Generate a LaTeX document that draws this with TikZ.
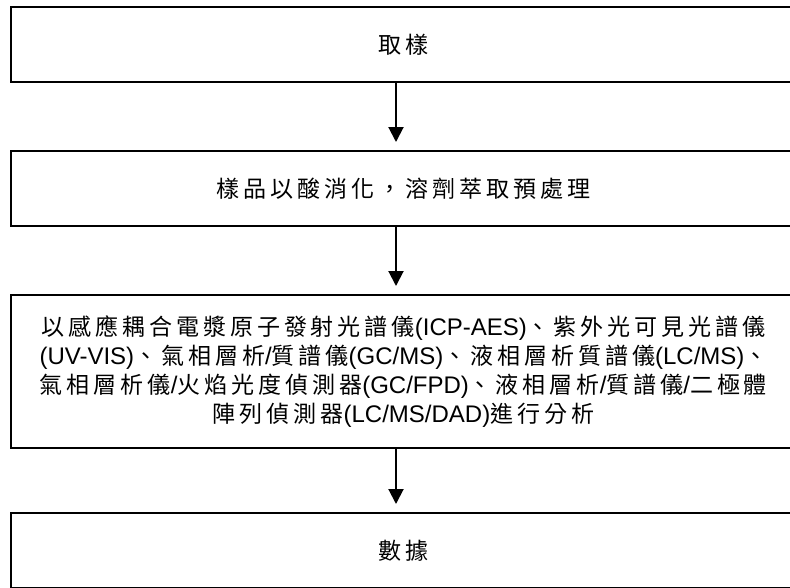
\documentclass[tikz,border=0pt]{standalone}
\usepackage{fontspec}
\setmainfont{Liberation Sans}
\newfontfamily\cjk[Scale=0.96,LetterSpace=17]{Noto Sans CJK TC}
\usetikzlibrary{arrows.meta}
\begin{document}
\begin{tikzpicture}[x=0.75pt,y=-0.75pt,
  box/.style={draw=black, line width=1.5pt, minimum width=588.75pt, minimum height=56.25pt, inner sep=0pt, align=center, font=\fontsize{18pt}{21.75pt}\selectfont},
  arr/.style={line width=1.5pt, -{Triangle[width=11.25pt,length=11.25pt]}, shorten >=6pt}]
\useasboundingbox (0,0) rectangle (790,587);
\node[box] (b1) at (403.5,44.5) {{\cjk 取樣}};
\node[box] (b2) at (403.5,188.5) {{\cjk 樣品以酸消化，溶劑萃取預處理}};
\node[box, minimum height=114.75pt] (b3) at (403.5,371.5) {{\cjk 以感應耦合電漿原子發射光譜儀}(ICP-AES){\cjk 、紫外光可見光譜儀}\\
(UV-VIS){\cjk 、氣相層析}/{\cjk 質譜儀}(GC/MS){\cjk 、液相層析質譜儀}(LC/MS){\cjk 、}\\
{\cjk 氣相層析儀}/{\cjk 火焰光度偵測器}(GC/FPD){\cjk 、液相層析}/{\cjk 質譜儀}/{\cjk 二極體}\\
{\cjk 陣列偵測器}(LC/MS/DAD){\cjk 進行分析}};
\node[box] (b4) at (403.5,550.5) {{\cjk 數據}};
\coordinate (ax) at (396,0);
\draw[arr] (b1.south -| ax) -- (b2.north -| ax);
\draw[arr] (b2.south -| ax) -- (b3.north -| ax);
\draw[arr] (b3.south -| ax) -- (b4.north -| ax);
\end{tikzpicture}
\end{document}
